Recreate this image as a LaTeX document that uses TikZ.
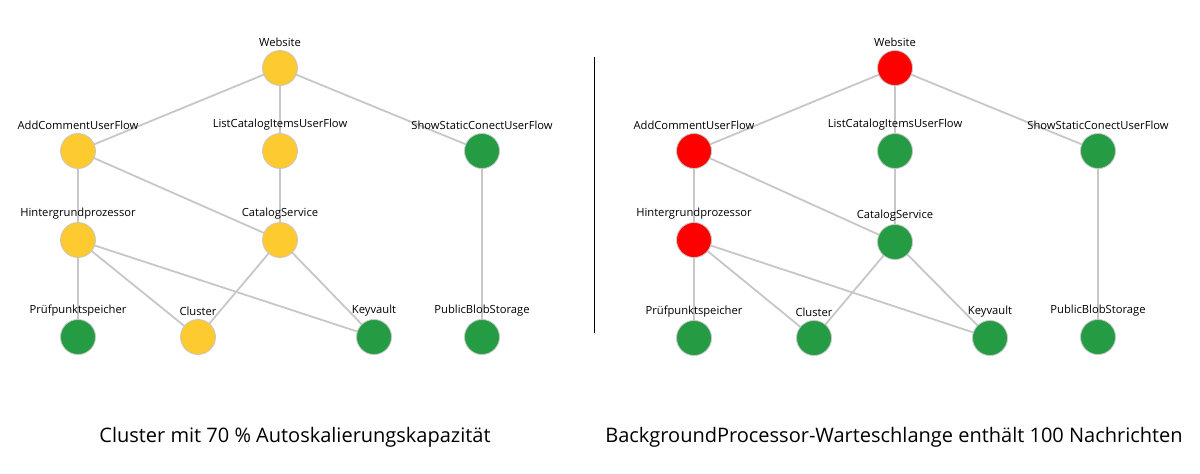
\documentclass[tikz,border=0pt]{standalone}
\usepackage{fontspec}
\setmainfont{Open Sans}
\usetikzlibrary{backgrounds}
\tikzset{
  dienst/.style={circle, draw=black!22, line width=0.8pt, minimum size=35pt, inner sep=0pt},
  gelb/.style={dienst, fill=gelbfarbe},
  gruen/.style={dienst, fill=gruenfarbe},
  rot/.style={dienst, fill=rotfarbe},
  kante/.style={draw=black!22, line width=1.8pt},
  beschriftung/.style={font=\fontsize{11.2pt}{13pt}\selectfont, inner sep=1pt},
  unterschrift/.style={font=\fontsize{20pt}{24pt}\selectfont}
}
\definecolor{gelbfarbe}{HTML}{FDCA30}
\definecolor{gruenfarbe}{HTML}{259B44}
\definecolor{rotfarbe}{HTML}{FF0000}
\begin{document}
\begin{tikzpicture}[x=1pt, y=-1pt, every label/.style={beschriftung}, label distance=2pt]
  \useasboundingbox (0,0) rectangle (1200,474);
  % linke Seite
  \node [gelb, label=above:Website] (lweb) at (280,68) {};
  \node [gelb, label=above:AddCommentUserFlow] (ladd) at (78,151) {};
  \node [gelb, label=above:ListCatalogItemsUserFlow] (llist) at (280,151) {};
  \node [gruen, label=above:ShowStaticConectUserFlow] (lshow) at (482,151) {};
  \node [gelb, label=above:Hintergrundprozessor] (lhint) at (78,240) {};
  \node [gelb, label=above:CatalogService] (lcat) at (280,240) {};
  \node [gruen, label=above:Prüfpunktspeicher] (lpruef) at (78,337) {};
  \node [gelb, label=above:Cluster] (lclu) at (198,337) {};
  \node [gruen, label=above:Keyvault] (lkey) at (374,337) {};
  \node [gruen, label=above:PublicBlobStorage] (lblob) at (482,337) {};
  \node [unterschrift] (ltext) at (295,437) {Cluster mit 70 \% Autoskalierungskapazität};
  % rechte Seite
  \node [rot, label=above:Website] (rweb) at (895,68) {};
  \node [rot, label=above:AddCommentUserFlow] (radd) at (694,151) {};
  \node [gruen, label=above:ListCatalogItemsUserFlow] (rlist) at (895,151) {};
  \node [gruen, label=above:ShowStaticConectUserFlow] (rshow) at (1098,151) {};
  \node [rot, label=above:Hintergrundprozessor] (rhint) at (694,240) {};
  \node [gruen, label=above:CatalogService] (rcat) at (895,242) {};
  \node [gruen, label=above:Prüfpunktspeicher] (rpruef) at (694,338) {};
  \node [gruen, label=above:Cluster] (rclu) at (814,338) {};
  \node [gruen, label=above:Keyvault] (rkey) at (990,338) {};
  \node [gruen, label=above:PublicBlobStorage] (rblob) at (1098,337) {};
  \node [unterschrift] (rtext) at (894,437) {BackgroundProcessor-Warteschlange enthält 100 Nachrichten};
  % Kanten hinter den Knoten
  \begin{pgfonlayer}{background}
  \foreach \s in {l,r} {
    \draw [kante] (\s web.center) -- (\s add.center);
    \draw [kante] (\s web.center) -- (\s list.center);
    \draw [kante] (\s web.center) -- (\s show.center);
    \draw [kante] (\s add.center) -- (\s hint.center);
    \draw [kante] (\s add.center) -- (\s cat.center);
    \draw [kante] (\s list.center) -- (\s cat.center);
    \draw [kante] (\s show.center) -- (\s blob.center);
    \draw [kante] (\s hint.center) -- (\s pruef.center);
    \draw [kante] (\s hint.center) -- (\s clu.center);
    \draw [kante] (\s hint.center) -- (\s key.center);
    \draw [kante] (\s cat.center) -- (\s clu.center);
    \draw [kante] (\s cat.center) -- (\s key.center);
  }
  \end{pgfonlayer}
  % Trennlinie
  \coordinate (oben) at (594,57);
  \coordinate (unten) at (594,333);
  \draw [black, line width=0.8pt] (oben) -- (unten);
\end{tikzpicture}
\end{document}
